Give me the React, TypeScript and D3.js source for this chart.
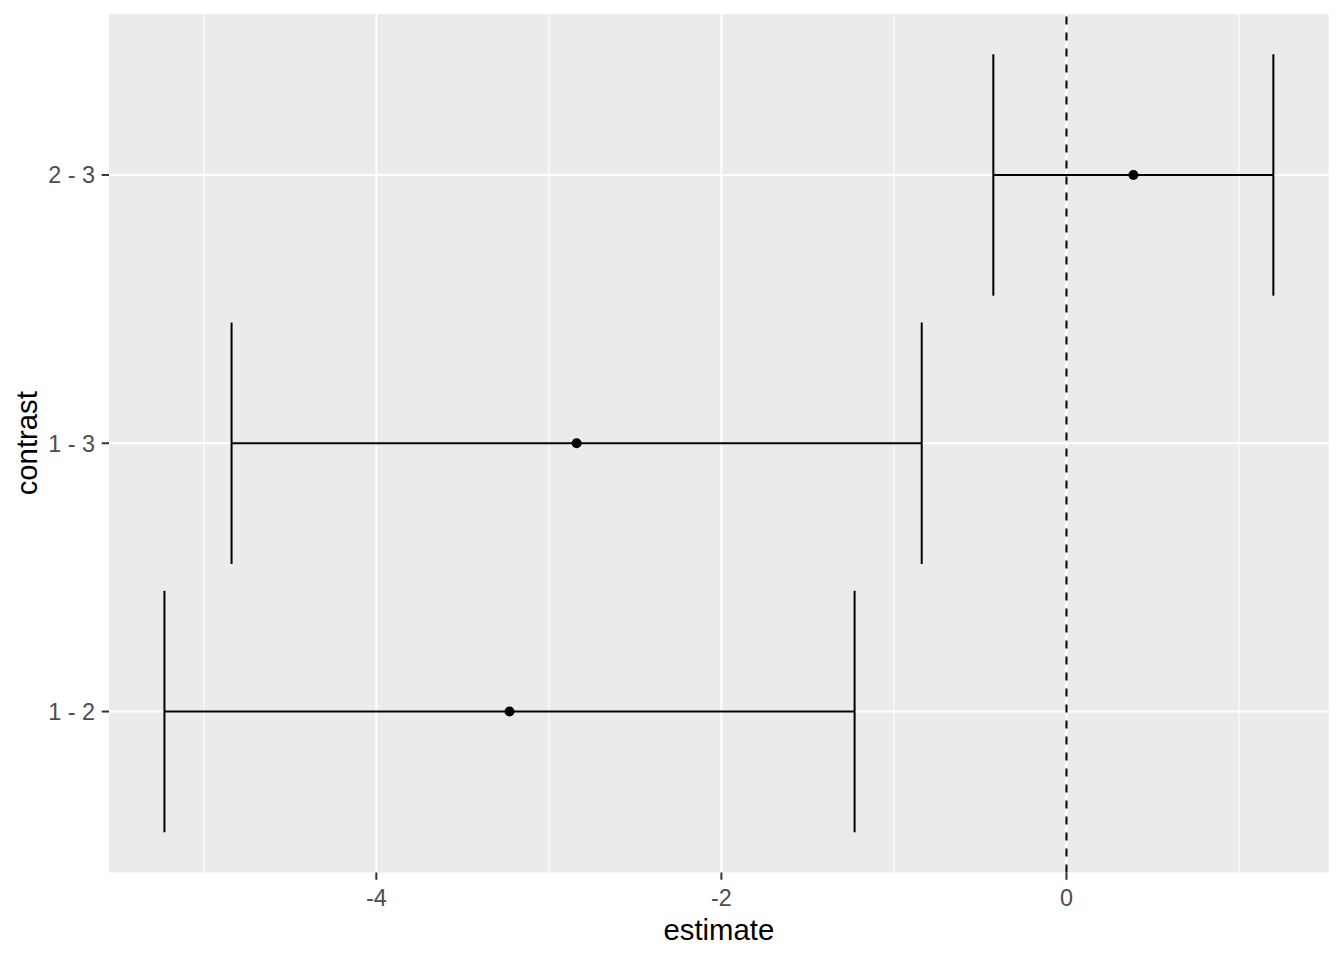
import React from "react";
import * as d3 from "d3";

const contrasts = ["1 - 2", "1 - 3", "2 - 3"];
const estimates = [-3.228, -2.839, 0.388];
const lowers = [-5.228, -4.839, -0.424];
const uppers = [-1.228, -0.839, 1.199];
const xTicks = [-4, -2, 0];
const xMinor = [-5, -3, -1, 1];

const W = 1344;
const H = 960;
const panel = { left: 109, right: 1328.8, top: 14, bottom: 872.5 };

export default function App() {
  const lo = d3.min(lowers)!;
  const hi = d3.max(uppers)!;
  const pad = (hi - lo) * 0.05;
  const x = d3.scaleLinear().domain([lo - pad, hi + pad]).range([panel.left, panel.right]);
  const y = d3
    .scaleLinear()
    .domain([0.4, contrasts.length + 0.6])
    .range([panel.bottom, panel.top]);
  const halfH = y(0) - y(0.45);
  const font = "'Liberation Sans', Arial, sans-serif";
  const cx = (panel.left + panel.right) / 2;
  const cy = (panel.top + panel.bottom) / 2;

  return (
    <svg
      width={W}
      height={H}
      style={{ position: "absolute", left: 0, top: 0, background: "#fff" }}
      fontFamily={font}
    >
      <rect
        x={panel.left}
        y={panel.top}
        width={panel.right - panel.left}
        height={panel.bottom - panel.top}
        fill="#EBEBEB"
      />
      {xMinor.map((v) => (
        <line key={"mn" + v} x1={x(v)} x2={x(v)} y1={panel.top} y2={panel.bottom} stroke="#fff" strokeWidth={1} />
      ))}
      {xTicks.map((v) => (
        <line key={"mj" + v} x1={x(v)} x2={x(v)} y1={panel.top} y2={panel.bottom} stroke="#fff" strokeWidth={2} />
      ))}
      {contrasts.map((c, i) => (
        <line key={"gy" + c} x1={panel.left} x2={panel.right} y1={y(i + 1)} y2={y(i + 1)} stroke="#fff" strokeWidth={2} />
      ))}
      <line
        x1={x(0)}
        x2={x(0)}
        y1={panel.top}
        y2={panel.bottom}
        stroke="#000"
        strokeWidth={2}
        strokeDasharray="8,8"
        strokeDashoffset={-2.5}
      />
      {contrasts.map((c, i) => {
        const yy = y(i + 1);
        return (
          <g key={"eb" + c} stroke="#000" strokeWidth={2}>
            <line x1={x(lowers[i])} x2={x(uppers[i])} y1={yy} y2={yy} />
            <line x1={x(lowers[i])} x2={x(lowers[i])} y1={yy - halfH} y2={yy + halfH} />
            <line x1={x(uppers[i])} x2={x(uppers[i])} y1={yy - halfH} y2={yy + halfH} />
            <circle cx={x(estimates[i])} cy={yy} r={5} fill="#000" stroke="none" />
          </g>
        );
      })}
      {/* x axis */}
      {xTicks.map((v) => (
        <g key={"xt" + v}>
          <line x1={x(v)} x2={x(v)} y1={panel.bottom} y2={panel.bottom + 7.3} stroke="#333" strokeWidth={2} />
          <text x={x(v)} y={905.5} textAnchor="middle" fontSize={23.4} fill="#4D4D4D">
            {v < 0 ? "-" + Math.abs(v) : String(v)}
          </text>
        </g>
      ))}
      {/* y axis */}
      {contrasts.map((c, i) => (
        <g key={"yt" + c}>
          <line x1={panel.left - 7.3} x2={panel.left} y1={y(i + 1)} y2={y(i + 1)} stroke="#333" strokeWidth={2} />
          <text x={95} y={y(i + 1)} dy="0.36em" textAnchor="end" fontSize={23.4} fill="#4D4D4D">
            {c}
          </text>
        </g>
      ))}
      <text x={cx} y={940} textAnchor="middle" fontSize={29.3} fill="#000">
        estimate
      </text>
      <text
        transform={`translate(37,${cy}) rotate(-90)`}
        textAnchor="middle"
        fontSize={29.3}
        fill="#000"
      >
        contrast
      </text>
    </svg>
  );
}
